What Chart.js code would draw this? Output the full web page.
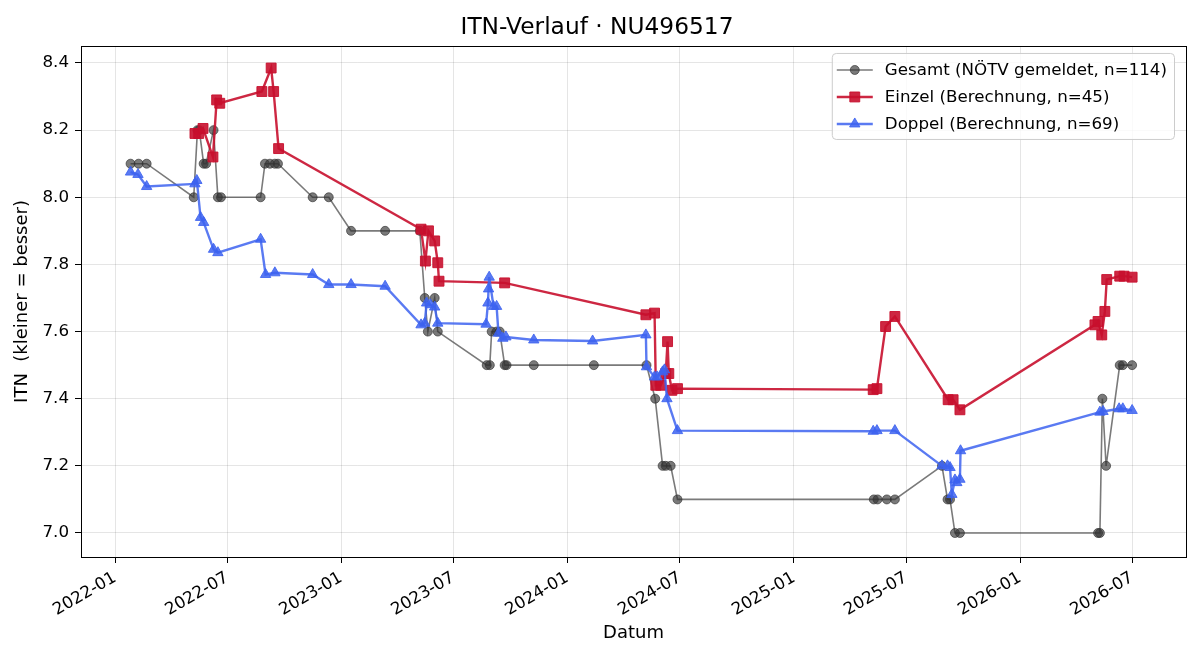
<!DOCTYPE html>
<html>
<head>
<meta charset="utf-8">
<script src="https://cdn.jsdelivr.net/npm/chart.js@4.4.1/dist/chart.umd.min.js"></script>
<style>
  html, body { margin: 0; padding: 0; background: #fff; }
</style>
</head>
<body>
<canvas id="itn-chart" width="1200" height="660"></canvas>
<script>
// ITN-Verlauf, Werte

const gesamtDaten = ["2022-01-26","2022-02-08","2022-02-21","2022-05-08","2022-05-14","2022-05-17","2022-05-24","2022-05-28","2022-06-09","2022-06-16","2022-06-21","2022-08-24","2022-08-31","2022-09-08","2022-09-16","2022-09-21","2022-11-16","2022-12-12","2023-01-17","2023-03-13","2023-05-08","2023-05-16","2023-05-21","2023-06-01","2023-06-06","2023-08-24","2023-08-29","2023-09-01","2023-09-09","2023-09-14","2023-09-22","2023-09-25","2023-11-08","2024-02-13","2024-05-08","2024-05-22","2024-06-03","2024-06-08","2024-06-16","2024-06-27","2025-05-10","2025-05-16","2025-05-31","2025-06-13","2025-08-28","2025-09-06","2025-09-10","2025-09-18","2025-09-26","2026-05-07","2026-05-10","2026-05-14","2026-05-20","2026-06-11","2026-06-16","2026-07-01"];
const gesamtWerte = [8.1,8.1,8.1,8.0,8.2,8.2,8.1,8.1,8.2,8.0,8.0,8.0,8.1,8.1,8.1,8.1,8.0,8.0,7.9,7.9,7.9,7.7,7.6,7.7,7.6,7.5,7.5,7.6,7.6,7.6,7.5,7.5,7.5,7.5,7.5,7.4,7.2,7.2,7.2,7.1,7.1,7.1,7.1,7.1,7.2,7.1,7.1,7.0,7.0,7.0,7.0,7.4,7.2,7.5,7.5,7.5];

const einzelDaten = ["2022-05-10","2022-05-16","2022-05-23","2022-06-08","2022-06-14","2022-06-19","2022-08-26","2022-09-10","2022-09-14","2022-09-22","2023-05-10","2023-05-17","2023-05-22","2023-06-01","2023-06-06","2023-06-08","2023-09-22","2024-05-07","2024-05-21","2024-05-23","2024-05-31","2024-06-08","2024-06-11","2024-06-13","2024-06-18","2024-06-27","2025-05-09","2025-05-15","2025-05-29","2025-06-13","2025-09-07","2025-09-15","2025-09-26","2026-05-02","2026-05-07","2026-05-13","2026-05-18","2026-05-21","2026-06-11","2026-06-18","2026-07-01"];
const einzelWerte = [8.19,8.19,8.205,8.12,8.29,8.28,8.315,8.385,8.315,8.145,7.905,7.81,7.90,7.87,7.805,7.75,7.745,7.65,7.655,7.44,7.44,7.475,7.57,7.475,7.425,7.43,7.427,7.43,7.615,7.645,7.397,7.397,7.367,7.62,7.63,7.59,7.66,7.755,7.765,7.765,7.762];

const doppelDaten = ["2022-01-26","2022-02-07","2022-02-21","2022-05-10","2022-05-13","2022-05-19","2022-05-24","2022-06-09","2022-06-16","2022-08-24","2022-09-01","2022-09-16","2022-11-16","2022-12-12","2023-01-17","2023-03-13","2023-05-10","2023-05-16","2023-05-19","2023-05-25","2023-06-01","2023-06-06","2023-08-23","2023-08-26","2023-08-27","2023-08-28","2023-09-04","2023-09-09","2023-09-12","2023-09-19","2023-09-24","2023-11-08","2024-02-11","2024-05-07","2024-05-08","2024-05-21","2024-05-25","2024-06-03","2024-06-06","2024-06-10","2024-06-27","2025-05-09","2025-05-15","2025-06-13","2025-08-28","2025-09-06","2025-09-10","2025-09-13","2025-09-18","2025-09-21","2025-09-26","2025-09-27","2026-05-10","2026-05-15","2026-06-10","2026-06-16","2026-07-01"];
const doppelWerte = [8.075,8.068,8.032,8.04,8.05,7.94,7.925,7.845,7.835,7.875,7.77,7.775,7.77,7.74,7.74,7.735,7.62,7.625,7.685,7.68,7.673,7.625,7.622,7.685,7.727,7.762,7.675,7.675,7.595,7.58,7.584,7.575,7.572,7.59,7.495,7.465,7.465,7.48,7.486,7.40,7.305,7.303,7.305,7.305,7.20,7.20,7.195,7.115,7.158,7.15,7.16,7.245,7.36,7.362,7.37,7.37,7.365];

const xTickDaten = ["2022-01-01","2022-07-01","2023-01-01","2023-07-01","2024-01-01","2024-07-01","2025-01-01","2025-07-01","2026-01-01","2026-07-01"];
const yTickWerte = [7.0, 7.2, 7.4, 7.6, 7.8, 8.0, 8.2, 8.4];

const schrift = "'DejaVu Sans', 'Liberation Sans', sans-serif";

function punkte(daten, werte) {
  return daten.map((d, i) => ({ x: Date.parse(d), y: werte[i] }));
}

const farbeGesamt = "rgba(51,51,51,0.65)";
const farbeEinzel = "rgba(200,16,46,0.9)";
const farbeDoppel = "rgba(61,99,240,0.85)";

// Rahmen um die Zeichenfläche und Legende oben rechts (wie matplotlib)
const rahmenUndLegende = {
  id: "rahmenUndLegende",
  afterDraw(chart) {
    const ctx = chart.ctx;
    const a = chart.chartArea;
    ctx.save();
    ctx.strokeStyle = "#000";
    ctx.lineWidth = 1;
    ctx.strokeRect(Math.round(a.left) + 0.5, Math.round(a.top) + 0.5,
      Math.round(a.right - a.left), Math.round(a.bottom - a.top));

    const eintraege = chart.data.datasets;
    ctx.font = "16.7px " + schrift;
    let textBreite = 0;
    eintraege.forEach(ds => { textBreite = Math.max(textBreite, ctx.measureText(ds.label).width); });
    const breite = textBreite + 60;
    const hoehe = 86;
    const rechts = a.right - 12;
    const oben = a.top + 7;
    const links = rechts - breite;

    ctx.beginPath();
    ctx.roundRect(links + 0.5, oben + 0.5, breite, hoehe, 4);
    ctx.fillStyle = "rgba(255,255,255,0.8)";
    ctx.fill();
    ctx.strokeStyle = "#cccccc";
    ctx.stroke();

    eintraege.forEach((ds, i) => {
      const y = oben + 17 + i * 27;
      ctx.strokeStyle = ds.borderColor;
      ctx.lineWidth = ds.borderWidth;
      ctx.beginPath();
      ctx.moveTo(links + 5, y);
      ctx.lineTo(links + 41, y);
      ctx.stroke();
      ctx.fillStyle = ds.pointBackgroundColor;
      ctx.strokeStyle = ds.pointBorderColor;
      ctx.lineWidth = 1;
      Chart.helpers.drawPoint(ctx, {
        pointStyle: ds.pointStyle,
        radius: ds.pointRadius,
        borderWidth: 1
      }, links + 23, y);
      ctx.fillStyle = "#000";
      ctx.textBaseline = "middle";
      ctx.textAlign = "left";
      ctx.fillText(ds.label, links + 53, y + 1);
    });
    ctx.restore();
  }
};

const ctx = document.getElementById("itn-chart").getContext("2d");

const chart = new Chart(ctx, {
  type: "line",
  data: {
    datasets: [
      {
        label: "Gesamt (NÖTV gemeldet, n=114)",
        data: punkte(gesamtDaten, gesamtWerte),
        borderColor: farbeGesamt,
        backgroundColor: farbeGesamt,
        pointBackgroundColor: farbeGesamt,
        pointBorderColor: farbeGesamt,
        borderWidth: 1.6,
        pointStyle: "circle",
        pointRadius: 4.5,
        pointBorderWidth: 1,
        tension: 0,
        order: 3
      },
      {
        label: "Einzel (Berechnung, n=45)",
        data: punkte(einzelDaten, einzelWerte),
        borderColor: farbeEinzel,
        backgroundColor: farbeEinzel,
        pointBackgroundColor: farbeEinzel,
        pointBorderColor: farbeEinzel,
        borderWidth: 2.4,
        pointStyle: "rect",
        pointRadius: 7,
        pointBorderWidth: 1,
        tension: 0,
        order: 2
      },
      {
        label: "Doppel (Berechnung, n=69)",
        data: punkte(doppelDaten, doppelWerte),
        borderColor: farbeDoppel,
        backgroundColor: farbeDoppel,
        pointBackgroundColor: farbeDoppel,
        pointBorderColor: farbeDoppel,
        borderWidth: 2.4,
        pointStyle: "triangle",
        pointRadius: 6,
        pointBorderWidth: 1,
        tension: 0,
        order: 1
      }
    ]
  },
  options: {
    responsive: false,
    animation: false,
    devicePixelRatio: 1,
    layout: { padding: { left: 8, right: 14, top: 0, bottom: 12 } },
    plugins: {
      legend: { display: false },
      tooltip: { enabled: false },
      title: {
        display: true,
        text: "ITN-Verlauf · NU496517",
        color: "#000",
        font: { family: schrift, size: 23.3, weight: "normal" },
        padding: { top: 14, bottom: 4 }
      }
    },
    scales: {
      x: {
        type: "linear",
        min: Date.parse("2021-11-07"),
        max: Date.parse("2026-09-26"),
        afterBuildTicks: scale => {
          scale.ticks = xTickDaten.map(d => ({ value: Date.parse(d) }));
        },
        afterFit: scale => { scale.height = 91; },
        ticks: {
          autoSkip: false,
          minRotation: 30,
          maxRotation: 30,
          padding: 5,
          color: "#000",
          font: { family: schrift, size: 16.7 },
          callback: v => {
            const d = new Date(v);
            return d.getUTCFullYear() + "-" + String(d.getUTCMonth() + 1).padStart(2, "0");
          }
        },
        grid: { color: "rgba(0,0,0,0.1)", tickColor: "#000", tickLength: 6 },
        border: { display: false },
        title: {
          display: true,
          text: "Datum",
          color: "#000",
          font: { family: schrift, size: 18 },
          padding: { top: 4, bottom: 4 }
        }
      },
      y: {
        min: 6.9285,
        max: 8.4507,
        afterBuildTicks: scale => {
          scale.ticks = yTickWerte.map(v => ({ value: v }));
        },
        afterFit: scale => { scale.width = 73; },
        ticks: {
          padding: 6,
          color: "#000",
          font: { family: schrift, size: 16.7 },
          callback: v => Number(v).toFixed(1)
        },
        grid: { color: "rgba(0,0,0,0.1)", tickColor: "#000", tickLength: 6 },
        border: { display: false },
        title: {
          display: true,
          text: "ITN  (kleiner = besser)",
          color: "#000",
          font: { family: schrift, size: 18 },
          padding: { top: 4, bottom: 4 }
        }
      }
    }
  },
  plugins: [rahmenUndLegende]
});
</script>
</body>
</html>
